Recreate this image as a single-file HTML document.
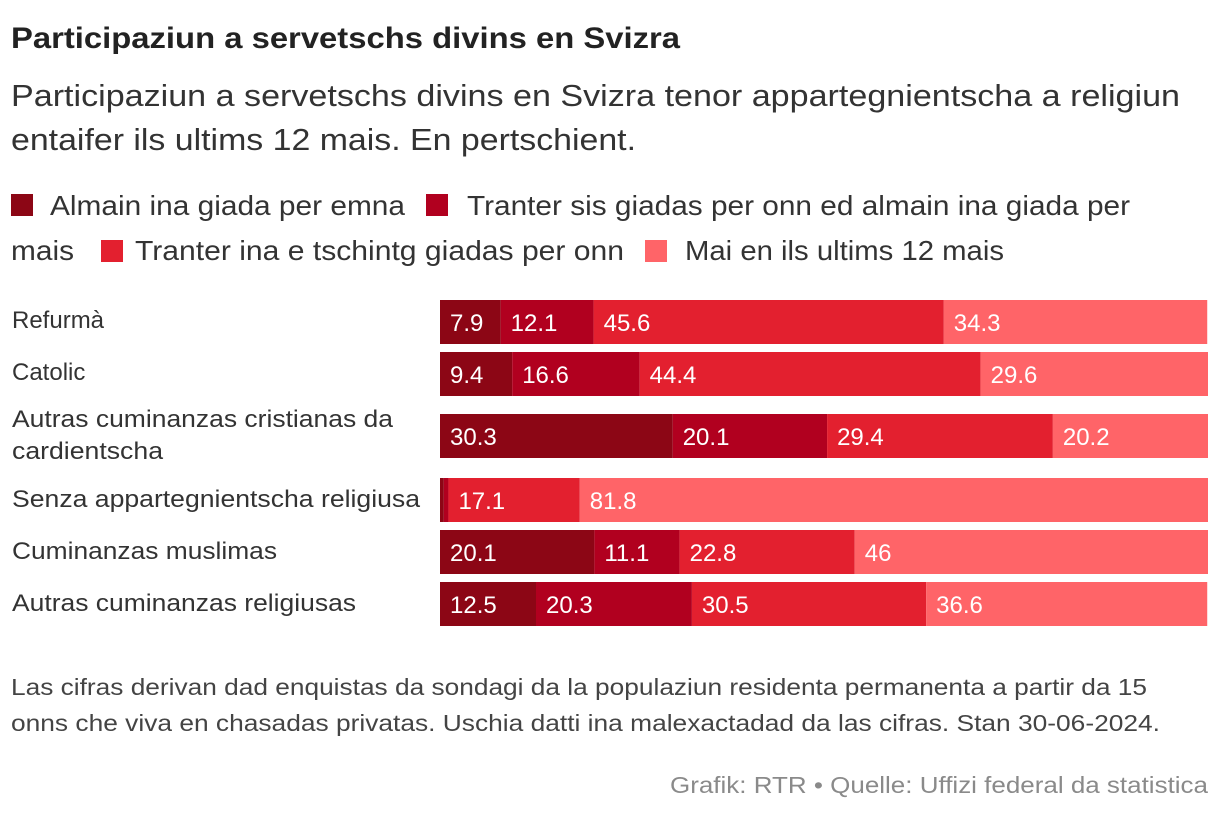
<!DOCTYPE html>
<html><head><meta charset="utf-8"><style>
html,body{margin:0;padding:0;background:#fff;}
svg{display:block;font-family:"Liberation Sans",sans-serif;}
</style></head><body>
<svg id="chart" width="1220" height="818" viewBox="0 0 1220 818" xmlns="http://www.w3.org/2000/svg">
<text x="11" y="48" font-size="30" font-weight="bold" fill="#222" textLength="669" lengthAdjust="spacingAndGlyphs">Participaziun a servetschs divins en Svizra</text>
<text x="11" y="106" font-size="31" fill="#333" textLength="1169" lengthAdjust="spacingAndGlyphs">Participaziun a servetschs divins en Svizra tenor appartegnientscha a religiun</text>
<text x="11" y="150" font-size="31" fill="#333" textLength="625" lengthAdjust="spacingAndGlyphs">entaifer ils ultims 12 mais. En pertschient.</text>
<g font-size="28" fill="#333">
<rect x="11" y="194" width="22" height="22" fill="#8c0615"/>
<text x="50" y="215" textLength="355" lengthAdjust="spacingAndGlyphs">Almain ina giada per emna</text>
<rect x="426" y="194" width="22" height="22" fill="#b1001f"/>
<text x="467" y="215" textLength="663" lengthAdjust="spacingAndGlyphs">Tranter sis giadas per onn ed almain ina giada per</text>
<text x="11" y="260" textLength="63" lengthAdjust="spacingAndGlyphs">mais</text>
<rect x="101" y="240" width="22" height="22" fill="#e3202f"/>
<text x="135" y="260" textLength="489" lengthAdjust="spacingAndGlyphs">Tranter ina e tschintg giadas per onn</text>
<rect x="645" y="240" width="22" height="22" fill="#ff6468"/>
<text x="685" y="260" textLength="319" lengthAdjust="spacingAndGlyphs">Mai en ils ultims 12 mais</text>
</g>
<g id="bars"></g>
<g id="labels" font-size="24" fill="#333">
<text x="12" y="328">Refurmà</text>
<text x="12" y="380">Catolic</text>
<text x="12" y="427" textLength="381" lengthAdjust="spacingAndGlyphs">Autras cuminanzas cristianas da</text>
<text x="12" y="459" textLength="151" lengthAdjust="spacingAndGlyphs">cardientscha</text>
<text x="12" y="507" textLength="408" lengthAdjust="spacingAndGlyphs">Senza appartegnientscha religiusa</text>
<text x="12" y="559" textLength="265" lengthAdjust="spacingAndGlyphs">Cuminanzas muslimas</text>
<text x="12" y="611" textLength="344" lengthAdjust="spacingAndGlyphs">Autras cuminanzas religiusas</text>
</g>
<g font-size="23" fill="#444">
<text x="11" y="695" textLength="1136" lengthAdjust="spacingAndGlyphs">Las cifras derivan dad enquistas da sondagi da la populaziun residenta permanenta a partir da 15</text>
<text x="11" y="731" textLength="1149" lengthAdjust="spacingAndGlyphs">onns che viva en chasadas privatas. Uschia datti ina malexactadad da las cifras. Stan 30-06-2024.</text>
<text x="1208" y="793" text-anchor="end" fill="#8a8a8a" textLength="538" lengthAdjust="spacingAndGlyphs">Grafik: RTR • Quelle: Uffizi federal da statistica</text>
</g>
</svg>
<script>
const categories = ["Refurmà","Catolic","Autras cuminanzas cristianas da cardientscha","Senza appartegnientscha religiusa","Cuminanzas muslimas","Autras cuminanzas religiusas"];
const weekly  = [7.9, 9.4, 30.3, 0.5, 20.1, 12.5];
const monthly = [12.1, 16.6, 20.1, 0.6, 11.1, 20.3];
const yearly  = [45.6, 44.4, 29.4, 17.1, 22.8, 30.5];
const never   = [34.3, 29.6, 20.2, 81.8, 46, 36.6];
const series = [weekly, monthly, yearly, never];
const colors = ["#8c0615","#b1001f","#e3202f","#ff6468"];
const rowTops = [300, 352, 414, 478, 530, 582];
const barH = 44, x0 = 440, scale = 7.68;
const xPos = v => x0 + v * scale;
const g = document.getElementById('bars');
const NS = "http://www.w3.org/2000/svg";
categories.forEach((c, i) => {
  let acc = 0;
  series.forEach((s, k) => {
    const v = s[i];
    const r = document.createElementNS(NS, 'rect');
    
    
    r.setAttribute('x', xPos(acc));
    r.setAttribute('y', rowTops[i]);
    r.setAttribute('width', v * scale);
    r.setAttribute('height', barH);
    r.setAttribute('fill', colors[k]);
    g.appendChild(r);
    if (v >= 3) {
      const t = document.createElementNS(NS, 'text');
      
      
      t.setAttribute('x', xPos(acc) + 10);
      t.setAttribute('y', rowTops[i] + barH / 2 + 9);
      t.setAttribute('font-size', '24');
      t.setAttribute('fill', '#fff');
      t.textContent = String(v);
      g.appendChild(t);
    }
    acc += v;
  });
});
</script>
</body></html>
